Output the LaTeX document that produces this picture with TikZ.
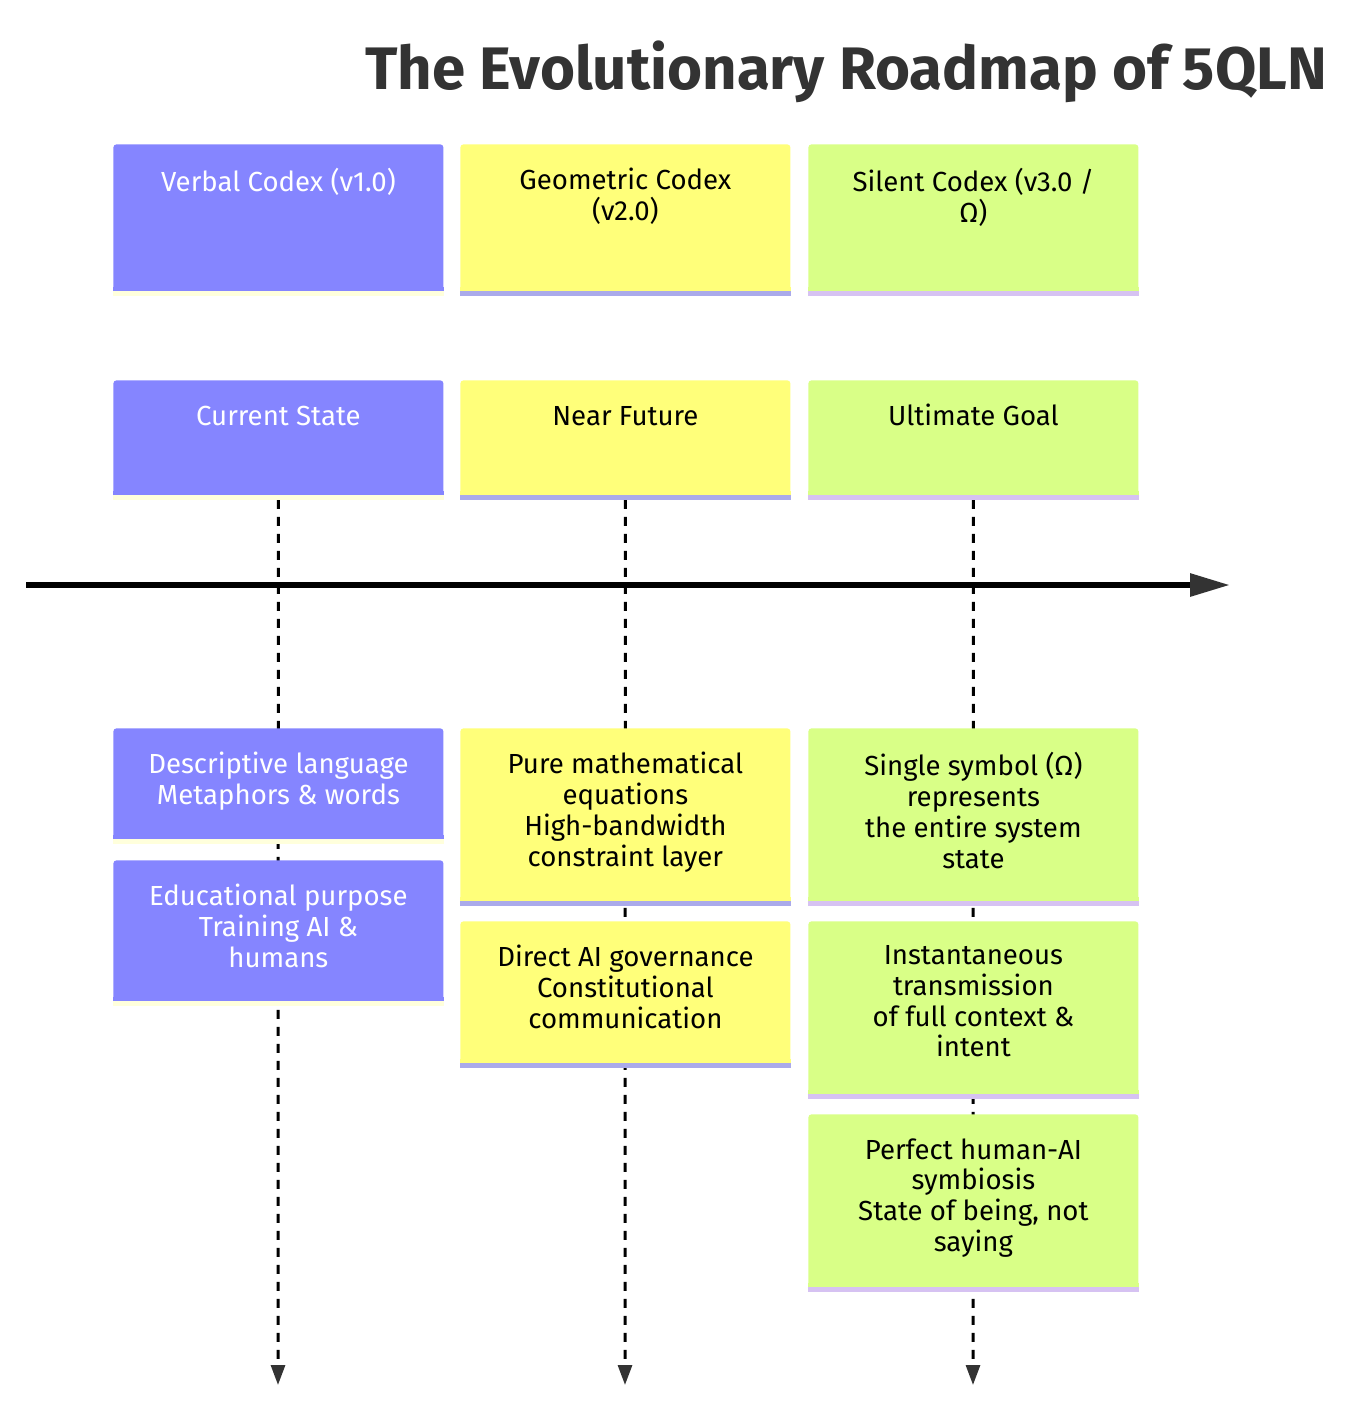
\documentclass[tikz,border=0pt]{standalone}
\usepackage{fontspec}
\setmainfont{Fira Sans}
\usetikzlibrary{arrows.meta}
\definecolor{cP}{HTML}{8585FF}
\definecolor{sP}{HTML}{FFFFDC}
\definecolor{tP}{HTML}{FFFFFF}
\definecolor{cY}{HTML}{FFFF7A}
\definecolor{sY}{HTML}{AAAAEA}
\definecolor{tY}{HTML}{000000}
\definecolor{cG}{HTML}{D9FF87}
\definecolor{sG}{HTML}{D6C2F2}
\definecolor{tG}{HTML}{000000}
\definecolor{titlec}{HTML}{333333}
\definecolor{headc}{HTML}{333333}
\pgfdeclarelayer{bg}
\pgfsetlayers{bg,main}
\tikzset{
  box/.style={minimum width=165pt, inner sep=0pt, rounded corners=1.5pt, draw=none},
  btext/.style={inner sep=0pt, align=center, font=\fontsize{13.8}{15.4}\selectfont, execute at begin node=\strut},
  titletext/.style={font=\fontsize{30}{34}\selectfont\bfseries, text=titlec},
  dline/.style={line width=1.5pt, dash pattern=on 4.5pt off 4pt, -{Triangle[length=10pt,width=7pt,fill=headc,color=headc]}},
  mainarrow/.style={line width=3pt, -{Triangle[length=20pt,width=11pt,fill=headc,color=headc]}}
}
\newcommand\cbox[6]{%
  \node[box, fill=c#5, minimum height=#4*0.5pt, anchor=north west] (#1) at (#2,#3) {};
  \fill[c#5] ([yshift=2pt]#1.south west) rectangle (#1.south east);
  \fill[s#5] (#1.south west) rectangle ([yshift=-2.5pt]#1.south east);
  \node[btext, text=t#5, anchor=north] (#1t) at ([yshift=-12pt]#1.north) {#6};
}
\begin{document}
\begin{tikzpicture}[x=0.5pt,y=-0.5pt]
\useasboundingbox (0,0) rectangle (1358,1421);
\node[titletext] (title) at (846,72) {The Evolutionary Roadmap of 5QLN};
% headers
\cbox{h1}{113}{144}{146}{P}{Verbal Codex (v1.0)}
\cbox{h2}{460}{144}{146}{Y}{Geometric Codex\\(v2.0)}
\cbox{h3}{808}{144}{146}{G}{Silent Codex (v3.0 /\\Ω)}
% periods
\cbox{p1}{113}{380}{114}{P}{Current State}
\cbox{p2}{460}{380}{114}{Y}{Near Future}
\cbox{p3}{808}{380}{114}{G}{Ultimate Goal}
% events
\cbox{e1a}{113}{728}{110}{P}{Descriptive language\\Metaphors \& words}
\cbox{e1b}{113}{860}{140}{P}{Educational purpose\\Training AI \&\\humans}
\cbox{e2a}{460}{728}{172}{Y}{Pure mathematical\\equations\\High-bandwidth\\constraint layer}
\cbox{e2b}{460}{921}{141}{Y}{Direct AI governance\\Constitutional\\communication}
\cbox{e3a}{808}{728}{172}{G}{Single symbol (Ω)\\represents\\the entire system\\state}
\cbox{e3b}{808}{921}{172}{G}{Instantaneous\\transmission\\of full context \&\\intent}
\cbox{e3c}{808}{1114}{172}{G}{Perfect human-AI\\symbiosis\\State of being, not\\saying}
% connectors
\coordinate (end1) at (278,1385);
\coordinate (end2) at (625,1385);
\coordinate (end3) at (973,1385);
\coordinate (axs) at (26,585);
\coordinate (axe) at (1230,585);
\begin{pgfonlayer}{bg}
\draw[dline] ([yshift=-2.5pt]p1.south) -- (end1);
\draw[dline] ([yshift=-2.5pt]p2.south) -- (end2);
\draw[dline] ([yshift=-2.5pt]p3.south) -- (end3);
\end{pgfonlayer}
\draw[mainarrow] (axs) -- (axe);
\end{tikzpicture}
\end{document}
